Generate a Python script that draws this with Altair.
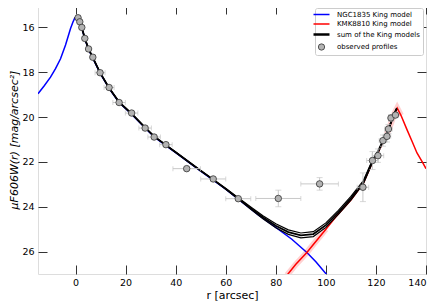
import altair as alt
import pandas as pd

LABELS = ["NGC1835 King model", "KMK8810 King model",
          "sum of the King models", "observed profiles"]
COLORS = ["#0000ff", "#ff0000", "#000000", "#333333"]

# NGC1835 King model (blue)
blue_r = [-15, -12.5, -10, -8, -6, -4, -3, -2, -1, -0.3, 1, 2.5, 3.7, 5.2, 6.9, 9.8,
          13.4, 17.4, 22.4, 27.8, 31.4, 36.1, 40, 45, 50, 55, 60, 65, 70, 73, 80,
          86.4, 92.4, 96, 100.5]
blue_mu = [18.96, 18.6, 18.22, 17.84, 17.4, 16.78, 16.42, 16.05, 15.75, 15.58, 15.62,
           16.02, 16.51, 16.98, 17.37, 18.04, 18.72, 19.35, 19.87, 20.49, 20.88, 21.27,
           21.59, 22.0, 22.41, 22.81, 23.22, 23.66, 24.1, 24.36, 24.92, 25.45, 26.04,
           26.45, 27.05]

# KMK8810 King model (red)
red_r = [84.5, 88, 92.4, 95, 100, 104, 110, 115, 118.6, 120.8, 122.8, 124.4, 126,
         127.5, 128.5, 130, 132.4, 134.5, 136.4, 138.5, 140]
red_mu = [27.05, 26.57, 26.04, 25.68, 25.0, 24.45, 23.7, 22.95, 22.02, 21.6, 21.12,
          20.75, 20.28, 19.82, 19.6, 19.92, 20.56, 21.1, 21.6, 22.0, 22.3]

# sum of the King models (black) and its spread
sum_r = [-0.3, 1, 2.5, 3.7, 5.2, 6.9, 9.8, 13.4, 17.4, 22.4, 27.8, 31.4, 36.1, 40, 45,
         50, 55, 60, 65, 70, 75, 80, 85, 90, 95, 100, 105, 110, 115, 118.6, 120.8,
         122.8, 124.4, 126, 127.5, 128.3]
sum_mu = [15.58, 15.6, 16.0, 16.49, 16.96, 17.35, 18.02, 18.7, 19.33, 19.85, 20.47,
          20.86, 21.25, 21.57, 21.98, 22.39, 22.79, 23.2, 23.63, 24.06, 24.48, 24.85,
          25.13, 25.28, 25.22, 24.82, 24.25, 23.62, 22.9, 21.98, 21.55, 21.08, 20.7,
          20.25, 19.8, 19.62]
sum_hw = [0.01, 0.01, 0.01, 0.01, 0.01, 0.01, 0.01, 0.01, 0.01, 0.01, 0.01, 0.01,
          0.01, 0.01, 0.01, 0.01, 0.01, 0.02, 0.03, 0.05, 0.07, 0.09, 0.1, 0.11, 0.11,
          0.1, 0.09, 0.08, 0.07, 0.06, 0.05, 0.05, 0.04, 0.03, 0.02, 0.02]

# observed profiles
obs_r = [1.0, 1.7, 2.5, 3.7, 5.2, 6.9, 9.8, 13.4, 17.4, 22.4, 27.8, 31.4, 36.1, 44.4,
         55.0, 65.0, 81.0, 97.5, 114.8, 118.6, 120.8, 122.8, 124.4, 125.0, 126.0, 127.8]
obs_mu = [15.57, 15.75, 16.0, 16.49, 16.96, 17.33, 18.02, 18.68, 19.35, 19.82, 20.49,
          20.89, 21.23, 22.3, 22.76, 23.64, 23.63, 22.98, 23.13, 21.94, 21.72, 21.05,
          20.86, 20.53, 20.04, 19.91]
obs_xerr = [0.5, 0.5, 0.5, 0.7, 0.8, 1.0, 2.0, 2.0, 2.5, 2.5, 2.5, 2.5, 2.5, 5.5,
            5.0, 5.0, 9.0, 7.5, 2.3, 2.3, 2.3, 1.5, 1.5, 1.5, 1.0, 1.0]
obs_yerr = [0.02, 0.02, 0.02, 0.03, 0.03, 0.03, 0.05, 0.05, 0.06, 0.06, 0.06, 0.06,
            0.06, 0.05, 0.05, 0.05, 0.37, 0.28, 0.64, 0.4, 0.3, 0.25, 0.25, 0.2, 0.15,
            0.1]

blue_df = pd.DataFrame({"r": blue_r, "mu": blue_mu, "series": LABELS[0]})
red_df = pd.DataFrame({"r": red_r, "mu": red_mu, "series": LABELS[1]})
haze_df = red_df[((red_df.r >= 84) & (red_df.r <= 100))].assign(seg="a")
haze_df = pd.concat([haze_df, red_df[(red_df.r >= 124) & (red_df.r <= 130)].assign(seg="b")])
sum_df = pd.DataFrame({"r": sum_r, "mu": sum_mu, "hw": sum_hw, "series": LABELS[2]})
band_df = pd.concat([
    pd.DataFrame({"r": sum_r, "mu": [m - h for m, h in zip(sum_mu, sum_hw)], "k": "lo"}),
    pd.DataFrame({"r": sum_r, "mu": [m + h for m, h in zip(sum_mu, sum_hw)], "k": "hi"}),
])
obs_df = pd.DataFrame({"r": obs_r, "mu": obs_mu})
obs_df["xlo"] = obs_df.r - pd.Series(obs_xerr)
obs_df["xhi"] = obs_df.r + pd.Series(obs_xerr)
obs_df["ylo"] = obs_df.mu - pd.Series(obs_yerr)
obs_df["yhi"] = obs_df.mu + pd.Series(obs_yerr)

xs = alt.Scale(domain=[-15, 140], nice=False, zero=False)
ys = alt.Scale(domain=[15, 27], nice=False, zero=False, reverse=True)

FONT = "DejaVu Sans"
ax_common = dict(domain=False, grid=False, tickSize=9, offset=-9, tickColor="#333333",
                 tickWidth=1, labelFont=FONT, labelFontSize=9.5, labelColor="#000000",
                 titleFont=FONT, titleColor="#000000", titleFontWeight="normal")
x_axis = alt.Axis(orient="bottom", values=list(range(0, 141, 20)), labelPadding=3,
                  title="r [arcsec]", titleFontSize=11, titlePadding=3, **ax_common)
y_axis = alt.Axis(orient="left", values=list(range(16, 27, 2)), labelPadding=4,
                  title="μF606W(r) [mag/arcsec²]", titleFontSize=11,
                  titleFontStyle="italic", titlePadding=2, **ax_common)
x_top = alt.Axis(orient="top", values=list(range(0, 141, 20)), labels=False, title=None,
                 **ax_common)
y_right = alt.Axis(orient="right", values=list(range(16, 27, 2)), labels=False,
                   title=None, **ax_common)

is_obs = "datum.value === 'observed profiles'"
legend = alt.Legend(
    title=None, orient="top-right", offset=3,
    symbolType=alt.ExprRef(f"{is_obs} ? 'circle' : 'stroke'"),
    symbolSize=alt.ExprRef(f"{is_obs} ? 40 : 256"),
    symbolFillColor=alt.ExprRef(f"{is_obs} ? '#b3b3b3' : 'transparent'"),
    symbolStrokeWidth=alt.ExprRef(
        f"{is_obs} ? 0.8 : (datum.value === 'sum of the King models' ? 2.5 : 1.5)"),
    labelFont=FONT, labelFontSize=7, labelColor="#000000",
    padding=3, rowPadding=1.5, labelOffset=12, strokeColor="#cccccc", fillColor="white",
    cornerRadius=2, labelLimit=200,
)
color = alt.Color("series:N", scale=alt.Scale(domain=LABELS, range=COLORS), legend=legend)

blue = alt.Chart(blue_df).mark_line(clip=True, strokeWidth=1.5).encode(
    x=alt.X("r:Q", scale=xs, axis=x_axis),
    y=alt.Y("mu:Q", scale=ys, axis=y_axis),
    color=color,
)
haze = alt.Chart(haze_df).mark_line(clip=True, strokeWidth=6, opacity=0.18,
                                    color="#ff0000").encode(
    x=alt.X("r:Q", scale=xs, axis=None),
    y=alt.Y("mu:Q", scale=ys, axis=None),
    detail="seg:N",
)
red = alt.Chart(red_df).mark_line(clip=True, strokeWidth=1.5).encode(
    x=alt.X("r:Q", scale=xs, axis=None),
    y=alt.Y("mu:Q", scale=ys, axis=None),
    color=color,
)
band = alt.Chart(band_df).mark_line(clip=True, strokeWidth=1.2, color="#000000").encode(
    x=alt.X("r:Q", scale=xs, axis=None),
    y=alt.Y("mu:Q", scale=ys, axis=None),
    detail="k:N",
)
summ = alt.Chart(sum_df).mark_line(clip=True, strokeWidth=1.8).encode(
    x=alt.X("r:Q", scale=xs, axis=None),
    y=alt.Y("mu:Q", scale=ys, axis=None),
    color=color,
)
ERR = "#c8c8c8"
xerr = alt.Chart(obs_df).mark_rule(clip=True, color=ERR, strokeWidth=1).encode(
    x=alt.X("xlo:Q", scale=xs, axis=None), x2="xhi:Q",
    y=alt.Y("mu:Q", scale=ys, axis=None),
)
xcap_lo = alt.Chart(obs_df).mark_tick(clip=True, color=ERR, orient="vertical", size=5,
                                      thickness=1).encode(
    x=alt.X("xlo:Q", scale=xs, axis=None), y=alt.Y("mu:Q", scale=ys, axis=None))
xcap_hi = alt.Chart(obs_df).mark_tick(clip=True, color=ERR, orient="vertical", size=5,
                                      thickness=1).encode(
    x=alt.X("xhi:Q", scale=xs, axis=None), y=alt.Y("mu:Q", scale=ys, axis=None))
yerr = alt.Chart(obs_df).mark_rule(clip=True, color=ERR, strokeWidth=1).encode(
    x=alt.X("r:Q", scale=xs, axis=None),
    y=alt.Y("ylo:Q", scale=ys, axis=None), y2="yhi:Q",
)
ycap_lo = alt.Chart(obs_df).mark_tick(clip=True, color=ERR, orient="horizontal", size=6,
                                      thickness=1).encode(
    x=alt.X("r:Q", scale=xs, axis=None), y=alt.Y("ylo:Q", scale=ys, axis=None))
ycap_hi = alt.Chart(obs_df).mark_tick(clip=True, color=ERR, orient="horizontal", size=6,
                                      thickness=1).encode(
    x=alt.X("r:Q", scale=xs, axis=None), y=alt.Y("yhi:Q", scale=ys, axis=None))
pts = alt.Chart(obs_df).mark_point(clip=True, filled=True, fill="#b3b3b3",
                                   stroke="#333333", strokeWidth=0.8, size=42,
                                   opacity=1, shape="circle").encode(
    x=alt.X("r:Q", scale=xs, axis=x_top),
    y=alt.Y("mu:Q", scale=ys, axis=y_right),
)

chart = alt.layer(
    blue, haze, red, band, summ, xerr, xcap_lo, xcap_hi, yerr, ycap_lo, ycap_hi, pts
).resolve_axis(x="independent", y="independent").properties(
    width=388, height=269,
    autosize=alt.AutoSizeParams(type="none"),
    padding={"left": 30, "top": -3, "right": 7, "bottom": 28},
).configure_view(stroke="#888888", strokeWidth=1.5).configure(font=FONT)

chart.save("out.html", embed_options={"renderer": "svg", "actions": False})
